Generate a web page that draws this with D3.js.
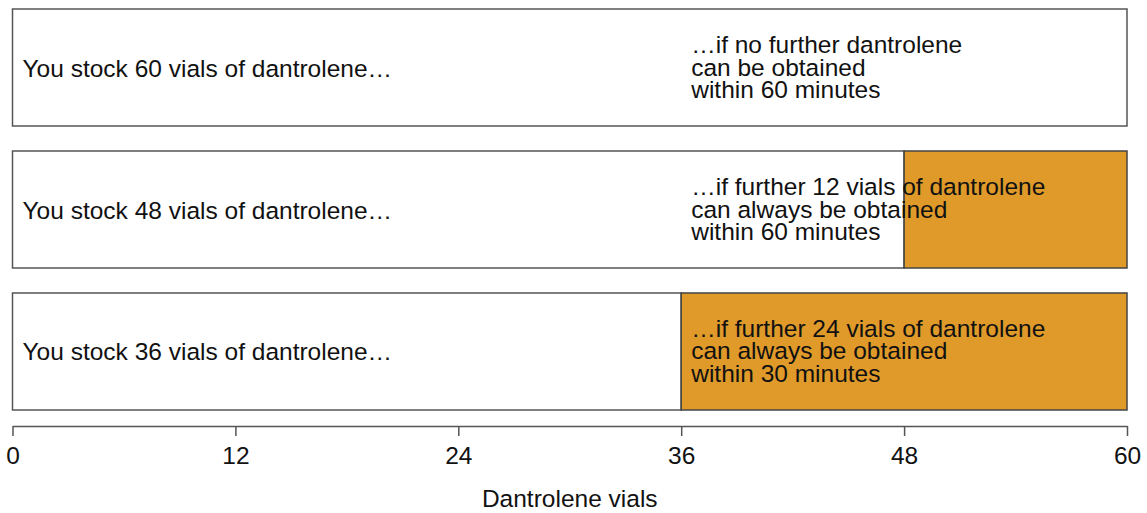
<!DOCTYPE html>
<html><head><meta charset="utf-8">
<script src="https://cdn.jsdelivr.net/npm/d3@7"></script>
<style>body{margin:0;background:#fff}text{font-family:"Liberation Sans",Arial,sans-serif;fill:#111}</style>
</head><body><svg id="c" width="1147" height="513"></svg>
<script>
const rows = ["r1","r2","r3"];
const stocked = [60, 48, 36];
const further = [0, 12, 24];
const leftLabels = ["You stock 60 vials of dantrolene…","You stock 48 vials of dantrolene…","You stock 36 vials of dantrolene…"];
const rightLabels = [
  ["…if no further dantrolene","can be obtained","within 60 minutes"],
  ["…if further 12 vials of dantrolene","can always be obtained","within 60 minutes"],
  ["…if further 24 vials of dantrolene","can always be obtained","within 30 minutes"]
];
const ticks = [0,12,24,36,48,60];
const axisTitle = "Dantrolene vials";

const svg = d3.select("#c");
const x = d3.scaleLinear().domain([0,60]).range([12.5,1127]);
const y = d3.scaleBand().domain(rows).range([9,410]).paddingInner(0.176).paddingOuter(0);
const fs = 24.5;
const orange = "#DF9A2A";

rows.forEach((r,i)=>{
  const g = svg.append("g");
  const y0 = y(r), h = y.bandwidth();
  g.append("rect").attr("x",x(0)).attr("y",y0).attr("width",x(stocked[i])-x(0)).attr("height",h)
    .attr("fill","#fff").attr("stroke","#555").attr("stroke-width",1.5);
  if (further[i]>0) {
    g.append("rect").attr("x",x(stocked[i])).attr("y",y0).attr("width",x(stocked[i]+further[i])-x(stocked[i])).attr("height",h)
      .attr("fill",orange).attr("stroke","#444").attr("stroke-width",1.5);
  }
  const cy = y0 + h/2;
  g.append("text").attr("x",x(0)+10).attr("y",cy+9).attr("font-size",fs).text(leftLabels[i]);
  rightLabels[i].forEach((t,j)=>{
    g.append("text").attr("x",x(36)+10).attr("y",cy+8+(j-1)*22.5).attr("font-size",fs).text(t);
  });
});

const ax = svg.append("g").attr("transform","translate(0,426)")
  .call(d3.axisBottom(x).tickValues(ticks).tickSize(10).tickPadding(11).tickSizeOuter(0));
ax.select(".domain").attr("stroke","#555").attr("stroke-width",1.5);
ax.selectAll(".tick line").attr("stroke","#555").attr("stroke-width",1.5);
ax.selectAll(".tick text").attr("font-size",fs).attr("font-family","Liberation Sans, Arial, sans-serif").attr("fill","#111");

svg.append("text").attr("x",(x(0)+x(60))/2).attr("y",507).attr("text-anchor","middle").attr("font-size",fs).text(axisTitle);
</script></body></html>
